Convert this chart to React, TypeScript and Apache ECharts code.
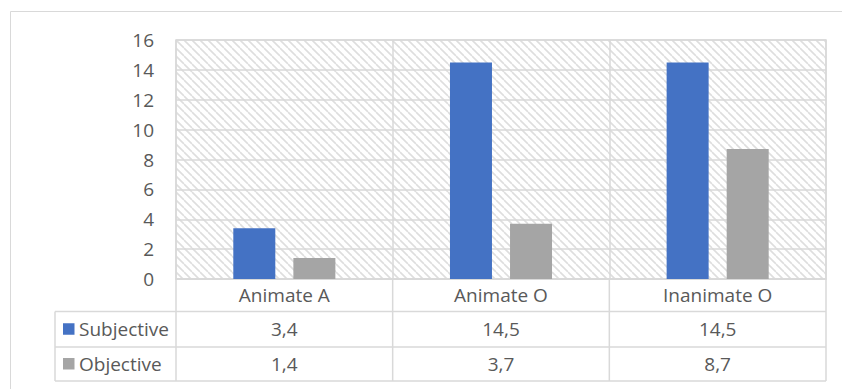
import React, { useEffect, useRef } from "react";
import * as echarts from "echarts";

const categories = ["Animate A", "Animate O", "Inanimate O"];
const seriesNames = ["Subjective", "Objective"];
const subjective = [3.4, 14.5, 14.5];
const objective = [1.4, 3.7, 8.7];
const seriesColors = ["#4472c4", "#a5a5a5"];
const yMin = 0;
const yMax = 16;
const yInterval = 2;

const W = 842;
const H = 389;
const GRID_L = 176;
const GRID_R = 826;
const GRID_T = 40;
const GRID_B = 279;
const ROW_LINES = [311.5, 347, 381];
const TABLE_L = 55;
const LINE = "#d9d9d9";
const TEXT = "#595959";
const FONT_FAMILY = '"Open Sans", "Noto Sans", sans-serif';
const FONT_SIZE = 19;

function makeHatch(): string {
  const c = document.createElement("canvas");
  c.width = 8;
  c.height = 8;
  const ctx = c.getContext("2d");
  if (ctx) {
    ctx.fillStyle = "#ffffff";
    ctx.fillRect(0, 0, 8, 8);
    ctx.strokeStyle = "#dedede";
    ctx.lineWidth = 1.6;
    for (const off of [-8, 0, 8]) {
      ctx.beginPath();
      ctx.moveTo(off, 0);
      ctx.lineTo(off + 8, 8);
      ctx.stroke();
    }
  }
  return c.toDataURL("image/png");
}

export default function App() {
  const ref = useRef<HTMLDivElement>(null);

  useEffect(() => {
    if (!ref.current) return;
    const chart = echarts.init(ref.current, null, { renderer: "svg", width: W, height: H });
    const data = [subjective, objective];
    const colW = (GRID_R - GRID_L) / categories.length;
    const font = `${FONT_SIZE}px ${FONT_FAMILY}`;

    const graphics: any[] = [];
    graphics.push({
      type: "rect",
      shape: { x: 10.5, y: 11.5, width: 1000, height: 1000 },
      style: { fill: "none", stroke: LINE, lineWidth: 1 },
      silent: true,
      z: 0,
    });
    ROW_LINES.forEach((y) => {
      graphics.push({
        type: "line",
        shape: { x1: TABLE_L, y1: y, x2: GRID_R, y2: y },
        style: { stroke: LINE, lineWidth: 1.5 },
        silent: true,
      });
    });
    graphics.push({
      type: "line",
      shape: { x1: TABLE_L, y1: ROW_LINES[0], x2: TABLE_L, y2: ROW_LINES[2] },
      style: { stroke: LINE, lineWidth: 1.5 },
      silent: true,
    });
    for (let j = 0; j <= categories.length; j++) {
      const x = GRID_L + j * colW;
      graphics.push({
        type: "line",
        shape: { x1: x, y1: GRID_B, x2: x, y2: ROW_LINES[2] },
        style: { stroke: LINE, lineWidth: 1.5 },
        silent: true,
      });
    }
    seriesNames.forEach((name, i) => {
      const cy = (ROW_LINES[i] + ROW_LINES[i + 1]) / 2;
      graphics.push({
        type: "rect",
        shape: { x: 63, y: cy - 6, width: 11.5, height: 11.5 },
        style: { fill: seriesColors[i] },
        silent: true,
      });
      graphics.push({
        type: "text",
        x: 79,
        y: cy,
        style: {
          text: name,
          font,
          fill: TEXT,
          align: "left",
          verticalAlign: "middle",
          textAlign: "left",
          textVerticalAlign: "middle",
        },
        silent: true,
      });
      data[i].forEach((v, j) => {
        graphics.push({
          type: "text",
          x: GRID_L + (j + 0.5) * colW,
          y: cy,
          style: {
            text: v.toFixed(1).replace(".", ","),
            font,
            fill: TEXT,
            align: "center",
            verticalAlign: "middle",
            textAlign: "center",
            textVerticalAlign: "middle",
          },
          silent: true,
        });
      });
    });

    chart.setOption({
      animation: false,
      backgroundColor: "#ffffff",
      textStyle: { fontFamily: FONT_FAMILY },
      grid: {
        left: GRID_L,
        right: W - GRID_R,
        top: GRID_T,
        bottom: H - GRID_B,
        show: true,
        backgroundColor: {
          image: makeHatch(),
          repeat: "repeat",
          imageWidth: 8,
          imageHeight: 8,
        },
        borderColor: LINE,
        borderWidth: 1.5,
      },
      xAxis: {
        type: "category",
        data: categories,
        boundaryGap: true,
        axisLine: { show: true, lineStyle: { color: LINE, width: 1.5 } },
        axisTick: { show: false },
        splitLine: { show: true, lineStyle: { color: LINE, width: 1.5 } },
        axisLabel: {
          color: TEXT,
          fontSize: FONT_SIZE,
          fontFamily: FONT_FAMILY,
          margin: 16,
          verticalAlign: "middle",
        },
      },
      yAxis: {
        type: "value",
        min: yMin,
        max: yMax,
        interval: yInterval,
        axisLine: { show: false },
        axisTick: { show: false },
        splitLine: { show: true, lineStyle: { color: LINE, width: 1.5 } },
        axisLabel: {
          color: TEXT,
          fontSize: FONT_SIZE,
          fontFamily: FONT_FAMILY,
          margin: 22,
        },
      },
      series: seriesNames.map((name, i) => ({
        name,
        type: "bar",
        data: data[i],
        itemStyle: { color: seriesColors[i] },
        barWidth: 42,
        barGap: "43%",
      })),
      graphic: graphics,
    });

    return () => {
      chart.dispose();
    };
  }, []);

  return (
    <div
      ref={ref}
      style={{ position: "fixed", left: 0, top: 0, width: W, height: H }}
    />
  );
}
